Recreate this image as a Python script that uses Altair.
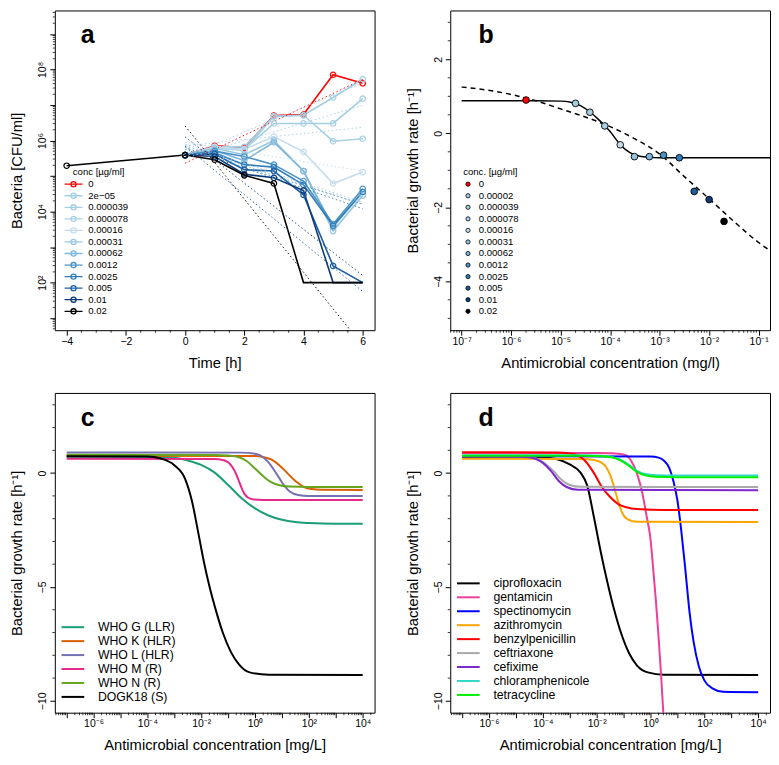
import json
import altair as alt
import pandas as pd

FONT = "Liberation Sans"
W, H = 321, 321

# ---------------- shared concentration labels / colours ----------------
conc_a = ["0", "2e\u221205", "0.000039", "0.000078", "0.00016", "0.00031",
          "0.00062", "0.0012", "0.0025", "0.005", "0.01", "0.02"]
conc_b = ["0", "0.00002", "0.000039", "0.000078", "0.00016", "0.00031",
          "0.00062", "0.0012", "0.0025", "0.005", "0.01", "0.02"]
conc_colors = ["#FF0000", "#A3CFE3", "#A3CFE3", "#A8D1E5", "#C3DCEE", "#98C6E0",
               "#7DB7DB", "#4A93C8", "#2F7CBA", "#1C5EA2", "#0E3B78", "#000000"]

# ---------------- panel a: time-kill data (log10 CFU/ml) ----------------
time_h = [0, 1, 2, 3, 4, 5, 6]
log10_cfu = [
    [5.59, 5.85, 5.80, 6.70, 6.73, 7.85, 7.61],   # 0
    [5.59, 5.82, 5.82, 6.68, 6.71, 7.21, 7.73],   # 2e-05
    [5.59, 5.80, 5.75, 6.48, 6.48, 6.48, 7.18],   # 0.000039
    [5.59, 5.80, 5.72, 6.68, 6.71, 5.98, 6.05],   # 0.000078
    [5.59, 5.82, 5.75, 6.11, 5.68, 4.79, 5.11],   # 0.00016
    [5.59, 5.78, 5.60, 6.00, 5.14, 3.45, 4.45],   # 0.00031
    [5.59, 5.72, 5.43, 5.95, 5.14, 3.56, 4.55],   # 0.00062
    [5.59, 5.70, 5.55, 5.32, 4.86, 3.65, 4.64],   # 0.0012
    [5.59, 5.65, 5.32, 5.25, 4.75, 3.60, 4.55],   # 0.0025
    [5.59, 5.62, 5.18, 5.14, 4.47, 2.47, 2.00],   # 0.005
    [5.59, 5.55, 5.05, 4.95, 4.59, 2.00, 2.00],   # 0.01
    [5.59, 5.46, 5.02, 4.79, 2.00, 2.00, 2.00],   # 0.02
]
pre_time = -4
pre_log10_cfu = 5.29
detection_limit = 100
fit_time = [0, 6]
fit_log10_start = [5.36, 5.55, 5.50, 5.85, 5.95, 5.90, 5.85, 5.75, 5.80, 5.84, 6.10, 6.41]
fit_log10_end = [7.72, 7.62, 6.99, 6.37, 5.14, 4.26, 4.20, 4.21, 4.08, 1.75, 2.20, 0.23]

# ---------------- panel b: growth rates ----------------
conc_pos_b = [2e-6, 2e-5, 3.9e-5, 7.8e-5, 1.6e-4, 3.1e-4, 6.2e-4, 1.2e-3, 2.5e-3, 5e-3, 1e-2, 2e-2]
rate_b = [0.90, 0.81, 0.57, 0.20, -0.31, -0.63, -0.63, -0.59, -0.66, -1.57, -1.79, -2.38]
solid_log10x = [-7, -5.5, -5.0, -4.8, -4.6, -4.4, -4.2, -4.0, -3.8, -3.6, -3.4, -3.2, -3.0, -2.0, 0.0]
solid_rate = [0.88, 0.88, 0.87, 0.84, 0.75, 0.57, 0.33, 0.05, -0.30, -0.52, -0.62, -0.65, -0.66, -0.66, -0.66]
dash_log10x = [-7, -6.5, -6, -5.5, -5, -4.5, -4, -3.5, -3, -2.5, -2, -1.5, -1, -0.77]
dash_rate = [1.25, 1.17, 1.05, 0.88, 0.66, 0.44, 0.18, -0.15, -0.56, -1.17, -1.77, -2.38, -2.95, -3.17]

# ---------------- panel c: strains ----------------
strains_c = ["WHO G (LLR)", "WHO K (HLR)", "WHO L (HLR)", "WHO M (R)", "WHO N (R)", "DOGK18 (S)"]
colors_c = ["#1B9E77", "#D95F02", "#7570B3", "#E7298A", "#66A61E", "#000000"]
curves_c = {
    "WHO G (LLR)": ([-7, -3.5, -3, -2.5, -2, -1.5, -1, -0.5, 0, 0.5, 1, 1.5, 2, 3, 4],
                    [0.72, 0.71, 0.67, 0.55, 0.36, 0.02, -0.52, -1.10, -1.55, -1.86, -2.05, -2.15, -2.19, -2.22, -2.22]),
    "WHO K (HLR)": ([-7, 0, 0.3, 0.6, 0.9, 1.2, 1.5, 1.8, 2.1, 2.5, 4],
                    [0.76, 0.75, 0.71, 0.60, 0.35, 0.0, -0.35, -0.60, -0.70, -0.73, -0.74]),
    "WHO L (HLR)": ([-7, -0.5, 0, 0.3, 0.5, 0.7, 0.9, 1.1, 1.3, 1.6, 2, 4],
                    [0.91, 0.90, 0.85, 0.70, 0.47, 0.15, -0.22, -0.57, -0.82, -0.96, -1.0, -1.01]),
    "WHO M (R)": ([-7, -1.5, -1.2, -1.0, -0.85, -0.7, -0.55, -0.4, -0.25, -0.05, 0.3, 4],
                  [0.63, 0.62, 0.58, 0.48, 0.28, -0.05, -0.50, -0.90, -1.08, -1.16, -1.18, -1.18]),
    "WHO N (R)": ([-7, -1.5, -1, -0.6, -0.3, 0, 0.3, 0.6, 0.9, 1.3, 2, 4],
                  [0.81, 0.80, 0.77, 0.70, 0.52, 0.20, -0.13, -0.40, -0.53, -0.59, -0.61, -0.61]),
    "DOGK18 (S)": ([-7, -4, -3.5, -3, -2.6, -2.35, -2.1, -1.9, -1.7, -1.45, -1.2, -0.9, -0.6, -0.2, 0.5, 4],
                   [0.74, 0.73, 0.64, 0.35, -0.25, -1.2, -2.68, -3.9, -4.95, -6.05, -7.0, -7.85, -8.4, -8.75, -8.85, -8.86]),
}

# ---------------- panel d: antimicrobials ----------------
drugs_d = ["ciprofloxacin", "gentamicin", "spectinomycin", "azithromycin", "benzylpenicillin",
           "ceftriaxone", "cefixime", "chloramphenicole", "tetracycline"]
colors_d = ["#000000", "#EE3E9B", "#0000FF", "#FFA500", "#FF0000",
            "#A9A9A9", "#7D26CD", "#2FD8C8", "#00EE00"]
curves_d = {
    "ciprofloxacin": ([-7, -4, -3.5, -3, -2.6, -2.35, -2.1, -1.85, -1.6, -1.35, -1.1, -0.8, -0.5, -0.1, 0.5, 4],
                      [0.70, 0.69, 0.62, 0.38, 0.02, -0.55, -1.95, -3.45, -4.8, -6.0, -7.0, -7.9, -8.45, -8.75, -8.85, -8.86]),
    "gentamicin": ([-7, -2, -1.5, -1.2, -0.9, -0.7, -0.5, -0.3, -0.15, 0.0, 0.1, 0.2, 0.3, 0.4, 0.5, 0.6],
                   [0.88, 0.88, 0.87, 0.85, 0.78, 0.50, -0.02, -0.90, -1.85, -2.9, -4.2, -5.6, -7.2, -9.0, -11.0, -13.0]),
    "spectinomycin": ([-7, 0, 0.3, 0.5, 0.7, 0.85, 1.0, 1.15, 1.3, 1.45, 1.6, 1.8, 2.0, 2.3, 2.7, 4],
                      [0.74, 0.73, 0.68, 0.54, 0.22, -0.35, -1.2, -2.6, -4.3, -6.1, -7.4, -8.5, -9.1, -9.45, -9.6, -9.62]),
    "azithromycin": ([-7, -2.5, -2.1, -1.85, -1.65, -1.5, -1.35, -1.2, -1.05, -0.85, -0.5, 4],
                     [0.63, 0.62, 0.58, 0.48, 0.27, -0.08, -0.62, -1.25, -1.75, -2.03, -2.14, -2.15]),
    "benzylpenicillin": ([-7, -3.5, -3.0, -2.7, -2.4, -2.1, -1.8, -1.5, -1.2, -0.9, -0.5, 0.5, 4],
                         [0.92, 0.91, 0.86, 0.78, 0.50, 0.0, -0.62, -1.05, -1.36, -1.50, -1.58, -1.62, -1.62]),
    "ceftriaxone": ([-7, -5, -4.5, -4.2, -3.9, -3.6, -3.3, -3.0, -2.6, 4],
                    [0.74, 0.73, 0.70, 0.62, 0.40, 0.08, -0.30, -0.52, -0.60, -0.61]),
    "cefixime": ([-7, -5, -4.6, -4.3, -4.0, -3.7, -3.4, -3.1, -2.7, 4],
                 [0.74, 0.73, 0.71, 0.64, 0.45, 0.10, -0.36, -0.62, -0.73, -0.75]),
    "chloramphenicole": ([-7, -2.5, -1.8, -1.4, -1.1, -0.8, -0.5, -0.2, 0.2, 1, 4],
                         [0.78, 0.78, 0.76, 0.70, 0.58, 0.36, 0.10, -0.04, -0.09, -0.10, -0.10]),
    "tetracycline": ([-7, -2.5, -1.8, -1.4, -1.1, -0.8, -0.5, -0.2, 0.2, 1, 4],
                     [0.76, 0.76, 0.74, 0.68, 0.55, 0.32, 0.05, -0.10, -0.16, -0.18, -0.18]),
}

# ---------------- tick labels ----------------
a_xticks = [-4, -2, 0, 2, 4, 6]
a_xminor = [-3.5, -3, -2.5, -1.5, -1, -0.5, 0.5, 1, 1.5, 2.5, 3, 3.5, 4.5, 5, 5.5]
a_ydec = [1e1, 1e2, 1e3, 1e4, 1e5, 1e6, 1e7, 1e8, 1e9]
a_ylab = ["", "10\u00b2", "", "10\u2074", "", "10\u2076", "", "10\u2078", ""]
b_xdec = [1e-7, 1e-6, 1e-5, 1e-4, 1e-3, 1e-2, 1e-1]
b_xlab = ["10\u207b\u2077", "10\u207b\u2076", "10\u207b\u2075", "10\u207b\u2074",
          "10\u207b\u00b3", "10\u207b\u00b2", "10\u207b\u00b9"]
b_yticks = [-4, -2, 0, 2]
b_yminor = [-5, -4.5, -3.5, -3, -2.5, -1.5, -1, -0.5, 0.5, 1, 1.5, 2.5, 3]
cd_xdec = [1e-7, 1e-6, 1e-5, 1e-4, 1e-3, 1e-2, 1e-1, 1e0, 1e1, 1e2, 1e3, 1e4]
cd_xlab = ["", "10\u207b\u2076", "", "10\u207b\u2074", "", "10\u207b\u00b2", "",
           "10\u2070", "", "10\u00b2", "", "10\u2074"]
cd_yticks = [-10, -5, 0]
cd_yminor = [-9, -8, -7, -6, -4, -3, -2, -1, 1, 2, 3]


def minor_log(lo_exp, hi_exp, lo, hi):
    out = []
    for e in range(lo_exp, hi_exp + 1):
        for k in range(2, 10):
            v = k * 10.0 ** e
            if lo <= v <= hi:
                out.append(v)
    return out


def lab_expr(values, labels):
    return "%s[indexof(%s, datum.value)]" % (json.dumps(labels, ensure_ascii=False), json.dumps(values))


XEXT, YEXT = 18, 18


def x_axis(title, values, expr=None):
    kw = dict(title=title, values=values, tickSize=5, labelPadding=1, titlePadding=7,
              minExtent=XEXT, maxExtent=XEXT, labelFlush=False, labelOverlap=False, labelBound=False)
    if expr:
        kw["labelExpr"] = expr
    return alt.Axis(**kw)


def y_axis(title, values, expr=None):
    kw = dict(title=title, values=values, tickSize=5, labelPadding=2, titlePadding=12,
              minExtent=YEXT, maxExtent=YEXT, labelAngle=270, labelFlush=False,
              labelOverlap=False, labelBound=False)
    if expr:
        kw["labelExpr"] = expr
    return alt.Axis(**kw)


def xminor(vals, field, scale, length=2.5):
    return alt.Chart(pd.DataFrame({field: vals})).mark_rule(color="black", strokeWidth=0.8).encode(
        x=alt.X(field + ":Q", scale=scale), y=alt.value(H), y2=alt.value(H + length))


def yminor(vals, field, scale, length=2.5):
    return alt.Chart(pd.DataFrame({field: vals})).mark_rule(color="black", strokeWidth=0.8).encode(
        y=alt.Y(field + ":Q", scale=scale), x=alt.value(0), x2=alt.value(-length))


def letter(txt, x, y):
    return alt.Chart(pd.DataFrame({"L": [txt]})).mark_text(
        fontSize=25, fontWeight="bold", font=FONT, align="center", baseline="middle", color="black"
    ).encode(text="L:N", x=alt.value(x), y=alt.value(y))


# =============== panel a ===============
order_a = [0] + list(range(1, 12))
rows = []
for i in order_a:
    if i == 11:
        rows.append({"conc": conc_a[i], "t": pre_time, "cfu": 10 ** pre_log10_cfu})
    for t, v in zip(time_h, log10_cfu[i]):
        rows.append({"conc": conc_a[i], "t": t, "cfu": 10 ** v})
df_a = pd.DataFrame(rows)
fit_rows = []
for i in order_a:
    fit_rows.append({"conc": conc_a[i], "t": fit_time[0], "cfu": 10 ** fit_log10_start[i]})
    fit_rows.append({"conc": conc_a[i], "t": fit_time[1], "cfu": 10 ** fit_log10_end[i]})
df_fit = pd.DataFrame(fit_rows)

sx_a = alt.Scale(domain=[-4.4, 6.4], nice=False, zero=False)
sy_a = alt.Scale(type="log", domain=[10 ** 0.66, 10 ** 9.66], nice=False)
cscale_a = alt.Scale(domain=conc_a, range=conc_colors)
SYM_A = "M-3,0L3,0M-0.85,0A0.85,0.85,0,1,1,0.85,0A0.85,0.85,0,1,1,-0.85,0"

lines_a = alt.Chart(df_a).mark_line(strokeWidth=1.6, clip=True).encode(
    x=alt.X("t:Q", scale=sx_a, axis=x_axis("Time [h]", a_xticks)),
    y=alt.Y("cfu:Q", scale=sy_a, axis=y_axis("Bacteria [CFU/ml]", a_ydec, lab_expr(a_ydec, a_ylab))),
    color=alt.Color("conc:N", scale=cscale_a, legend=alt.Legend(
        title="conc [\u00b5g/ml]", orient="none", legendX=14, legendY=157, symbolType=SYM_A,
        symbolSize=36, symbolStrokeWidth=1.3, symbolFillColor="transparent", labelFontSize=9.6,
        titleFontSize=9.6, titleFontWeight="normal", rowPadding=0.6, labelOffset=10,
        titleAnchor="middle", titlePadding=3, padding=0)),
)
fits_a = alt.Chart(df_fit).mark_line(strokeWidth=0.9, strokeDash=[1.5, 2.5], clip=True).encode(
    x=alt.X("t:Q", scale=sx_a), y=alt.Y("cfu:Q", scale=sy_a),
    color=alt.Color("conc:N", scale=cscale_a, legend=None))
pts_a = alt.Chart(df_a).transform_filter("datum.cfu > %d" % (detection_limit + 1)).mark_point(
    shape="circle", filled=False, size=30, strokeWidth=1.2, opacity=1, clip=True).encode(
    x=alt.X("t:Q", scale=sx_a), y=alt.Y("cfu:Q", scale=sy_a),
    color=alt.Color("conc:N", scale=cscale_a, legend=None))
panel_a = alt.layer(
    lines_a, fits_a, pts_a,
    xminor(a_xminor, "t", sx_a), yminor(minor_log(0, 9, 10 ** 0.66, 10 ** 9.66), "cfu", sy_a, 2),
    letter("a", 33, 25),
).properties(width=W, height=H)

# =============== panel b ===============
sx_b = alt.Scale(type="log", domain=[10 ** -7.23, 10 ** -0.77], nice=False)
sy_b = alt.Scale(domain=[-5.32, 3.32], nice=False, zero=False)
df_solid = pd.DataFrame({"x": [10 ** v for v in solid_log10x], "y": solid_rate})
df_dash = pd.DataFrame({"x": [10 ** v for v in dash_log10x], "y": dash_rate})
df_bp = pd.DataFrame({"x": conc_pos_b, "y": rate_b, "conc": conc_b})
xb_title = "Antimicrobial concentration (mg/l)"
yb_title = "Bacterial growth rate [h\u207b\u00b9]"
solid_b = alt.Chart(df_solid).mark_line(color="black", strokeWidth=1.5, interpolate="monotone", clip=True).encode(
    x=alt.X("x:Q", scale=sx_b, axis=x_axis(xb_title, b_xdec, lab_expr(b_xdec, b_xlab))),
    y=alt.Y("y:Q", scale=sy_b, axis=y_axis(yb_title, b_yticks)))
dash_b = alt.Chart(df_dash).mark_line(color="black", strokeWidth=1.5, strokeDash=[5, 4],
                                      interpolate="monotone", clip=True).encode(
    x=alt.X("x:Q", scale=sx_b), y=alt.Y("y:Q", scale=sy_b))
pts_b = alt.Chart(df_bp).mark_point(shape="circle", filled=True, size=45, stroke="black",
                                    strokeWidth=0.9, opacity=1).encode(
    x=alt.X("x:Q", scale=sx_b), y=alt.Y("y:Q", scale=sy_b),
    fill=alt.Fill("conc:N", scale=alt.Scale(domain=conc_b, range=conc_colors), legend=alt.Legend(
        title="conc. [\u00b5g/ml]", orient="none", legendX=13, legendY=157, symbolType="circle",
        symbolSize=18, symbolStrokeColor="black", symbolStrokeWidth=0.8, labelFontSize=9.6,
        titleFontSize=9.6, titleFontWeight="normal", rowPadding=0.6, labelOffset=6,
        titleAnchor="start", titlePadding=3, padding=0)))
panel_b = alt.layer(
    solid_b, dash_b, pts_b,
    xminor(minor_log(-8, -1, 10 ** -7.23, 10 ** -0.77), "x", sx_b),
    yminor(b_yminor, "y", sy_b),
    letter("b", 36, 25),
).properties(width=W, height=H)

# =============== panels c, d ===============
sx_cd = alt.Scale(type="log", domain=[10 ** -7.44, 10 ** 4.44], nice=False)
sy_cd = alt.Scale(domain=[-10.52, 3.52], nice=False, zero=False)
SYM_LINE = "M-3.8,0L3.8,0"
x_title_cd = "Antimicrobial concentration [mg/L]"


def curve_panel(names, colors, curves, field, legendY, let, lx):
    rows = []
    for n in names:
        xs, ys = curves[n]
        for a, b in zip(xs, ys):
            rows.append({field: n, "x": 10 ** a, "y": b})
    df = pd.DataFrame(rows)
    main = alt.Chart(df).mark_line(strokeWidth=2, interpolate="monotone", clip=True).encode(
        x=alt.X("x:Q", scale=sx_cd, axis=x_axis(x_title_cd, cd_xdec, lab_expr(cd_xdec, cd_xlab))),
        y=alt.Y("y:Q", scale=sy_cd, axis=y_axis(yb_title, cd_yticks)),
        color=alt.Color(field + ":N", scale=alt.Scale(domain=names, range=colors), legend=alt.Legend(
            title=None, orient="none", legendX=12, legendY=legendY, symbolType=SYM_LINE,
            symbolSize=36, symbolStrokeWidth=2, labelFontSize=12.3, rowPadding=1.0,
            labelOffset=19, padding=0)))
    return alt.layer(
        main,
        xminor(minor_log(-8, 4, 10 ** -7.44, 10 ** 4.44), "x", sx_cd),
        yminor(cd_yminor, "y", sy_cd),
        letter(let, lx, 25),
    ).properties(width=W, height=H)


panel_c = curve_panel(strains_c, colors_c, curves_c, "strain", 229, "c", 33)
panel_d = curve_panel(drugs_d, colors_d, curves_d, "drug", 185, "d", 36)

chart = alt.concat(
    panel_a, panel_b, panel_c, panel_d, columns=2,
    spacing={"row": 63, "column": 76}, bounds="flush",
).resolve_scale(
    color="independent", fill="independent", x="independent", y="independent"
).properties(
    padding={"left": 1, "top": 0, "right": 0, "bottom": 0}
).configure(font=FONT).configure_view(
    stroke="black", strokeWidth=1
).configure_axis(
    labelFont=FONT, titleFont=FONT, labelFontSize=10.5, titleFontSize=14.8,
    titleFontWeight="normal", labelColor="black", titleColor="black", tickColor="black",
    tickWidth=1, grid=False, domain=False
).configure_legend(
    labelFont=FONT, titleFont=FONT, labelColor="black", titleColor="black"
)

chart.save("out.html", embed_options={"renderer": "svg", "actions": False})
